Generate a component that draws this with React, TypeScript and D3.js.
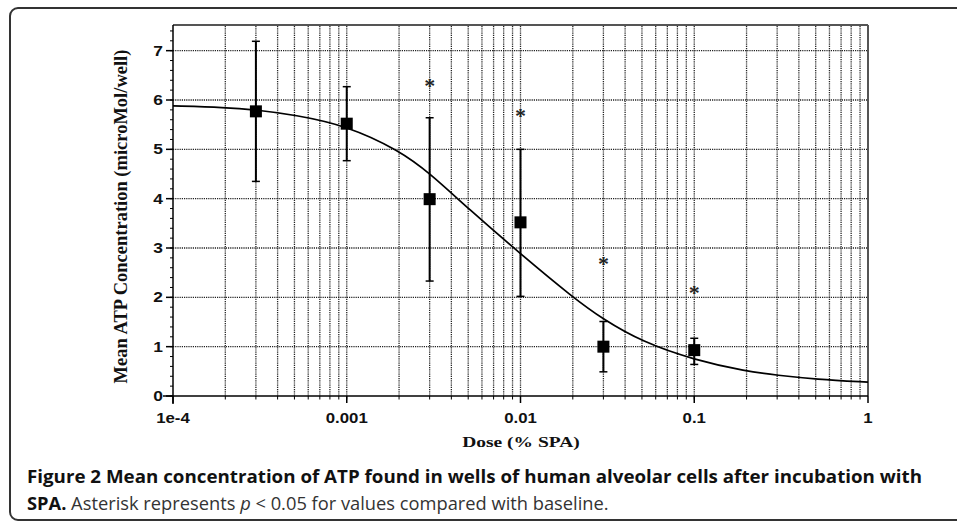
import * as d3 from "d3";
import { useEffect } from "react";

// measured doses (% SPA) and ATP means with error bar ends
const doses = [0.0003, 0.001, 0.003, 0.01, 0.03, 0.1];
const means = [5.77, 5.52, 3.99, 3.52, 1.0, 0.93];
const errLow = [4.35, 4.77, 2.33, 2.02, 0.49, 0.64];
const errHigh = [7.19, 6.27, 5.64, 5.0, 1.51, 1.17];
// asterisk heights (null = not significant)
const starLevel = [null, null, 6.35, 5.74, 2.74, 2.15];

// fitted curve
const fitDoses = [1e-4, 2e-4, 3e-4, 5e-4, 1e-3, 2e-3, 3e-3, 5e-3, 1e-2, 2e-2, 3e-2, 5e-2, 0.1, 0.2, 0.3, 0.5, 1];
const fitValues = [5.88, 5.85, 5.8, 5.7, 5.48, 4.98, 4.52, 3.8, 2.88, 2.0, 1.55, 1.1, 0.73, 0.5, 0.42, 0.34, 0.28];

const xTickValues = [1e-4, 1e-3, 1e-2, 1e-1, 1];
const xTickLabels = ["1e-4", "0.001", "0.01", "0.1", "1"];
const yTicks = [0, 1, 2, 3, 4, 5, 6, 7];

const W = 957;
const H = 522;
const left = 173;
const right = 868;
const top = 26;
const bottom = 396;
const stretch = 1.2; // figure text is stretched sideways

export default function App() {
  useEffect(() => {
    document.body.style.margin = "0";
  }, []);

  const x = d3.scaleLog().domain([1e-4, 1]).range([left, right]);
  const y = d3.scaleLinear().domain([0, 7.5]).range([bottom, top]);

  const minorX = x.ticks().filter((t) => t > 1e-4 && t < 1);
  const minorY = d3.range(0, 7.41, 0.2);

  const line = d3
    .line<number>()
    .x((_d, i) => x(fitDoses[i]))
    .y((d) => y(d))
    .curve(d3.curveBasis);

  const tickFont = "'Liberation Sans', Arial, sans-serif";
  const serif = "'Liberation Serif', 'Times New Roman', serif";
  const grid = { stroke: "#222", strokeWidth: 1.3, strokeDasharray: "1.2,1" };

  return (
    <svg width={W} height={H} style={{ display: "block", background: "#fff" }}>
      <rect x={10} y={8} width={1000} height={512} rx={8} fill="none" stroke="#333" strokeWidth={2} />

      {/* grid */}
      {minorX.map((t, i) => (
        <line key={"gx" + i} x1={x(t)} x2={x(t)} y1={top} y2={bottom} {...grid} />
      ))}
      {yTicks.slice(1).map((t) => (
        <line key={"gy" + t} x1={left} x2={right} y1={y(t)} y2={y(t)} {...grid} />
      ))}

      {/* frame */}
      <line x1={left} x2={right} y1={top - 1} y2={top - 1} stroke="#555" strokeWidth={2} />
      <line x1={right} x2={right} y1={top - 1} y2={bottom} stroke="#555" strokeWidth={2} />
      <line x1={left} x2={left} y1={top - 1} y2={bottom + 8} stroke="#000" strokeWidth={1.5} />
      <line x1={163} x2={right} y1={bottom} y2={bottom} stroke="#000" strokeWidth={1.5} />

      {/* y ticks */}
      {minorY.map((t, i) => (
        <line key={"my" + i} x1={left - 3} x2={left} y1={y(t)} y2={y(t)} stroke="#000" strokeWidth={1} />
      ))}
      {yTicks.map((t) => (
        <g key={"yt" + t}>
          <line x1={left - 7} x2={left} y1={y(t)} y2={y(t)} stroke="#000" strokeWidth={1.5} />
          <text
            transform={`translate(${left - 10},${y(t) + 5}) scale(${stretch},1)`}
            textAnchor="end"
            fontFamily={tickFont}
            fontWeight="bold"
            fontSize={14.5}
            fill="#111"
          >
            {t}
          </text>
        </g>
      ))}

      {/* x ticks */}
      {minorX.map((t, i) => (
        <line key={"mx" + i} x1={x(t)} x2={x(t)} y1={bottom} y2={bottom + 3.5} stroke="#000" strokeWidth={1} />
      ))}
      {xTickValues.map((t, i) => (
        <g key={"xt" + i}>
          <line x1={x(t)} x2={x(t)} y1={bottom} y2={bottom + 7} stroke="#000" strokeWidth={1.5} />
          <text
            transform={`translate(${x(t)},${bottom + 27}) scale(${stretch},1)`}
            textAnchor="middle"
            fontFamily={tickFont}
            fontWeight="bold"
            fontSize={14}
            fill="#111"
          >
            {xTickLabels[i]}
          </text>
        </g>
      ))}

      {/* fitted curve */}
      <path d={line(fitValues) || ""} fill="none" stroke="#000" strokeWidth={1.7} />

      {/* error bars and points */}
      {doses.map((d, i) => {
        const cx = x(d);
        return (
          <g key={"pt" + i}>
            <line x1={cx} x2={cx} y1={y(errLow[i])} y2={y(errHigh[i])} stroke="#000" strokeWidth={2} />
            <line x1={cx - 4} x2={cx + 4} y1={y(errLow[i])} y2={y(errLow[i])} stroke="#000" strokeWidth={1.5} />
            <line x1={cx - 4} x2={cx + 4} y1={y(errHigh[i])} y2={y(errHigh[i])} stroke="#000" strokeWidth={1.5} />
            <rect x={cx - 6} y={y(means[i]) - 6} width={12} height={12} fill="#000" />
            {starLevel[i] !== null && (
              <text
                transform={`translate(${cx},${y(starLevel[i] as number) + 10}) scale(1.1,1)`}
                textAnchor="middle"
                fontFamily={serif}
                fontWeight="bold"
                fontSize={20}
                fill="#222"
              >
                *
              </text>
            )}
          </g>
        );
      })}

      {/* axis titles */}
      <text
        transform={`translate(127,216.5) rotate(-90)`}
        textAnchor="middle"
        fontFamily={serif}
        fontWeight="bold"
        fontSize={18.5}
        fill="#111"
      >
        Mean ATP Concentration (microMol/well)
      </text>
      <text
        transform={`translate(521,447) scale(1.3,1)`}
        textAnchor="middle"
        fontFamily={serif}
        fontWeight="bold"
        fontSize={15}
        fill="#111"
      >
        Dose (% SPA)
      </text>

      {/* caption */}
      <text
        x={27}
        y={483}
        fontFamily="'Open Sans', sans-serif"
        fontWeight="bold"
        fontSize={18.5}
        fill="#111"
        textLength={895}
        lengthAdjust="spacingAndGlyphs"
      >
        Figure 2 Mean concentration of ATP found in wells of human alveolar cells after incubation with
      </text>
      <text x={27} y={510} fontFamily="'Open Sans', sans-serif" fontSize={18.3} fill="#333">
        <tspan fontWeight="bold" fill="#111">SPA.</tspan>
        <tspan> Asterisk represents </tspan>
        <tspan fontStyle="italic">p</tspan>
        <tspan> &lt; 0.05 for values compared with baseline.</tspan>
      </text>
    </svg>
  );
}
